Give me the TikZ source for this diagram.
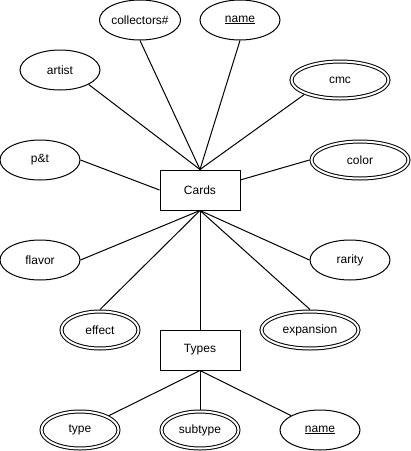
\documentclass[tikz,border=0pt]{standalone}
\usepackage{fontspec}
\setmainfont{Liberation Sans}
\usetikzlibrary{shapes.geometric}

\begin{document}
\begin{tikzpicture}[
  x = 1pt, y = -1pt, line width = 1pt,
  every node/.style = {font = \fontsize{12}{14}\selectfont, inner sep = 0pt},
  entity/.style = {draw, rectangle, minimum width = 80pt, minimum height = 40pt},
  attr/.style = {draw, ellipse, minimum width = 80pt, minimum height = 40pt},
  multi/.style = {draw, ellipse, double, double distance = 2pt, outer sep = 2pt,
                  minimum width = #1, minimum height = 37pt},
  multi/.default = 77pt
  ]
  \useasboundingbox (0,0) rectangle (411,451);

  \node[entity] (cards) at (200,190) {Cards};
  \node[entity] (types) at (200,350) {Types};

  \node[attr] (collectors) at (140,20) {collectors\#};
  \node[attr] (name) at (240,20) {\underline{name}};
  \node[attr] (artist) at (60,70) {artist};
  \node[multi=97pt] (cmc) at (340,80) {cmc};
  \node[attr] (pt) at (40,160) {p\&t};
  \node[multi=97pt] (color) at (360,160) {color};
  \node[attr] (flavor) at (40,260) {flavor};
  \node[attr] (rarity) at (350,260) {rarity};
  \node[multi] (effect) at (100,330) {effect};
  \node[multi=97pt] (expansion) at (310,330) {expansion};

  \node[multi] (type) at (80,430) {type};
  \node[multi] (subtype) at (200,430) {subtype};
  \node[attr] (tname) at (320,430) {\underline{name}};

  \draw (artist.south east) -- (cards.north);
  \draw (collectors.south) -- (cards.north);
  \draw (name.south) -- (cards.north);
  \draw (cmc.south west) -- (cards.north);
  \draw (pt.east) -- (cards.west);
  \draw (color.west) -- (cards.14);
  \draw (flavor.east) -- (cards.south);
  \draw (effect.north) -- (cards.south);
  \draw (cards.south) -- (types.north);
  \draw (expansion.north) -- (cards.south);
  \draw (rarity.west) -- (cards.south);

  \draw (type) -- (types.south);
  \draw (subtype) -- (types.south);
  \draw (tname) -- (types.south);
\end{tikzpicture}
\end{document}
